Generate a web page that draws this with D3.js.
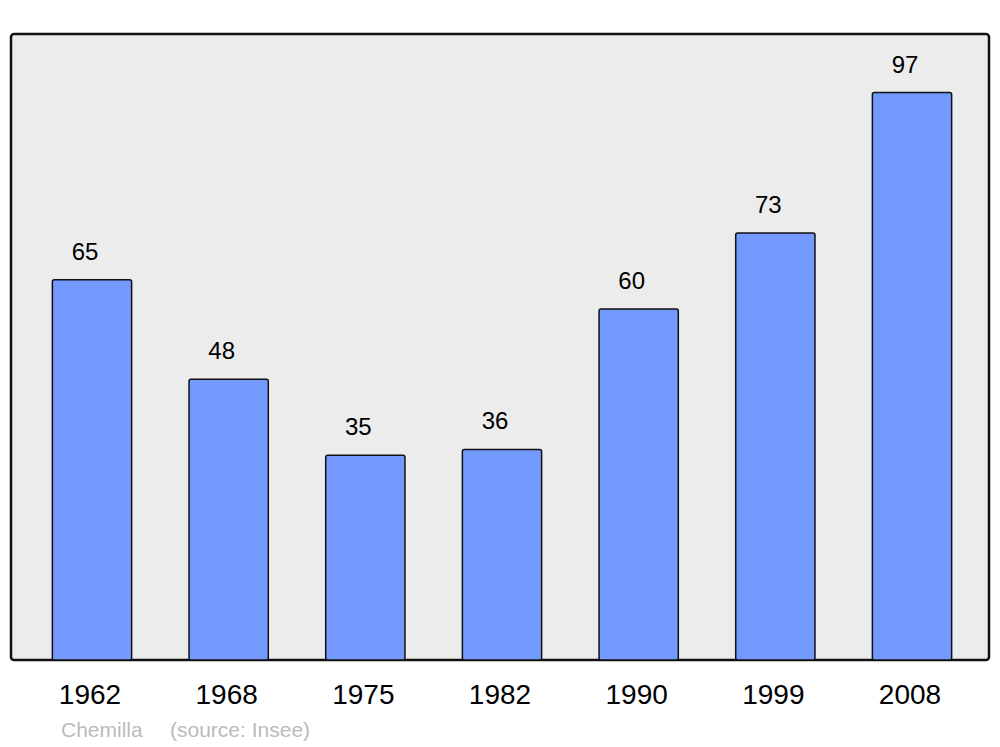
<!DOCTYPE html>
<html><head><meta charset="utf-8">
<script src="https://cdn.jsdelivr.net/npm/d3@7"></script>
<style>body{margin:0;background:#fff}</style>
</head><body>
<script>
const years = ["1962","1968","1975","1982","1990","1999","2008"];
const values = [65,48,35,36,60,73,97];
const townName = "Chemilla";
const sourceText = "(source: Insee)";

const W=1000,H=747;
const svg=d3.select("body").append("svg").attr("width",W).attr("height",H);
svg.append("rect").attr("x",11).attr("y",34).attr("width",978).attr("height",626)
  .attr("rx",3).attr("fill","#ececec").attr("stroke","#111").attr("stroke-width",2.5);

const x=d3.scaleBand().domain(years).range([16,988]).paddingInner(0.42).paddingOuter(0.266);
const y=d3.scaleLinear().domain([0,107]).range([660,34]);

svg.selectAll("rect.bar").data(values).enter().append("rect").attr("class","bar")
  .attr("x",(d,i)=>x(years[i])).attr("y",d=>y(d)).attr("width",x.bandwidth())
  .attr("height",d=>y(0)-y(d)).attr("rx",2)
  .attr("fill","#7399ff").attr("stroke","#111").attr("stroke-width",1.5);

svg.selectAll("text.val").data(values).enter().append("text").attr("class","val")
  .attr("x",(d,i)=>x(years[i])+x.bandwidth()/2-7).attr("y",d=>y(d)-20)
  .attr("text-anchor","middle").attr("font-family","Liberation Sans, Arial, sans-serif")
  .attr("font-size",24).attr("fill","#000").text(d=>d);

const xa=d3.axisBottom(x).tickSize(0).tickPadding(0);
const g=svg.append("g").attr("transform","translate(-2,704)").call(xa);
g.select(".domain").remove();
g.selectAll("text").attr("dy",0).attr("font-family","Liberation Sans, Arial, sans-serif")
  .attr("font-size",28).attr("fill","#000");

svg.append("text").attr("x",61).attr("y",737).attr("font-family","Liberation Sans, Arial, sans-serif")
  .attr("font-size",21).attr("fill","#bbb").text(townName);
svg.append("text").attr("x",170).attr("y",737).attr("font-family","Liberation Sans, Arial, sans-serif")
  .attr("font-size",21).attr("fill","#bbb").text(sourceText);
</script>
</body></html>
